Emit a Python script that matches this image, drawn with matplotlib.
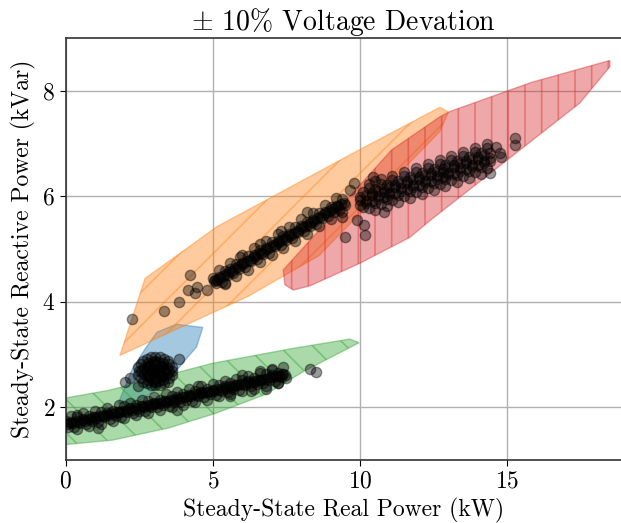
import numpy as np
import matplotlib
matplotlib.use("Agg")
import matplotlib.pyplot as plt

plt.rcParams['font.family'] = 'serif'
plt.rcParams['font.serif'] = ['cmr10']
plt.rcParams['mathtext.fontset'] = 'cm'
plt.rcParams['axes.formatter.use_mathtext'] = True
plt.rcParams['hatch.linewidth'] = 1.2

# operating regions (kW, kVar)
blue_px = [1.79, 2.25, 2.7, 3.1, 3.77, 4.66, 4.45, 4.0, 3.5, 3.0, 2.3]
blue_qy = [2.07, 2.7, 3.1, 3.42, 3.57, 3.51, 3.14, 2.85, 2.5, 2.3, 2.05]

orange_px = [1.85, 2.70, 5.13, 10.0, 12.71, 13.0, 12.71, 8.6, 6.2]
orange_qy = [2.98, 4.44, 5.42, 6.89, 7.69, 7.60, 7.23, 4.87, 4.10]

green_px = [-0.1, 1.5, 5.0, 7.7, 9.65, 9.97, 8.1, 6.8, 5.1, 3.5, 1.6, -0.1]
green_qy = [2.16, 2.32, 2.83, 3.11, 3.29, 3.22, 2.68, 2.24, 1.88, 1.60, 1.37, 1.28]

red_px = [7.39, 7.45, 7.73, 8.30, 10.0, 11.69, 12.4, 17.46, 18.48, 18.48,
          15.8, 13.05, 12.71, 11.07]
red_qy = [4.60, 4.32, 4.22, 4.30, 4.73, 5.22, 5.55, 7.77, 8.46, 8.58,
          8.16, 7.61, 7.51, 6.88]

# measured steady-state points, band by band
low_x = [0.0, 0.2, 0.4, 0.6, 0.8, 1.0, 1.2, 1.4, 1.6, 1.8, 2.0, 2.2, 2.4, 2.6,
         2.8, 3.0, 3.2, 3.4, 3.6, 3.8, 4.0, 4.2, 4.4, 4.6, 4.8, 5.0, 5.2, 5.4,
         5.6, 5.8, 6.0, 6.2, 6.4, 6.6, 6.8, 7.0, 7.2, 7.4,
         0.1, 0.3, 0.5, 0.7, 0.9, 1.1, 1.3, 1.5, 1.7, 1.9, 2.1, 2.3, 2.5, 2.7,
         2.9, 3.1, 3.3, 3.5, 3.7, 3.9, 4.1, 4.3, 4.5, 4.7, 4.9, 5.1, 5.3, 5.5,
         5.7, 5.9, 6.1, 6.3, 6.5, 6.7, 6.9, 7.1, 7.3,
         0.05, 0.15, 0.25, 0.35, 0.45, 0.55, 0.65, 0.75, 0.85, 0.95, 1.05, 1.15,
         1.25, 1.35, 1.45, 1.55, 1.65, 1.75, 1.85, 1.95, 2.05, 2.15, 2.25, 2.35,
         2.45, 2.55, 2.65, 2.75, 2.85, 2.95, 3.05, 3.15, 3.25, 3.35, 3.45, 3.55,
         3.65, 3.75, 3.85, 3.95, 4.05, 4.15, 4.25, 4.35, 4.45, 4.55, 4.65, 4.75,
         4.85, 4.95, 5.05, 5.15, 5.25, 5.35, 5.45, 5.55, 5.65, 5.75, 5.85, 5.95,
         6.05, 6.15, 6.25, 6.35, 6.45, 6.55, 6.65, 6.75, 6.85, 6.95, 7.05, 7.15,
         7.25, 7.35, 7.45,
         0.2, 0.6, 1.0, 1.4, 1.8, 2.2, 2.6, 3.0, 3.4, 3.8, 4.2, 4.6, 5.0, 5.4,
         5.8, 6.2, 6.6, 7.0, 7.4,
         0.4, 0.8, 1.2, 1.6, 2.0, 2.4, 2.8, 3.2, 3.6, 4.0, 4.4, 4.8, 5.2, 5.6,
         6.0, 6.4, 6.8, 7.2,
         0.4, 1.1, 3.8, 4.5, 5.6, 6.0, 6.3, 6.6, 7.0, 7.2, 7.5, 6.8, 8.3, 8.5]
low_y = [1.73, 1.71, 1.80, 1.78, 1.83, 1.81, 1.90, 1.88, 1.93, 1.91, 2.01, 1.98,
         2.04, 2.01, 2.11, 2.08, 2.14, 2.12, 2.21, 2.19, 2.24, 2.22, 2.31, 2.29,
         2.34, 2.32, 2.42, 2.39, 2.45, 2.42, 2.52, 2.49, 2.55, 2.52, 2.62, 2.60,
         2.65, 2.63,
         1.62, 1.61, 1.69, 1.68, 1.73, 1.71, 1.80, 1.78, 1.83, 1.81, 1.90, 1.88,
         1.93, 1.92, 2.00, 1.99, 2.03, 2.02, 2.10, 2.09, 2.14, 2.12, 2.21, 2.19,
         2.24, 2.22, 2.31, 2.29, 2.34, 2.33, 2.41, 2.40, 2.44, 2.45, 2.51, 2.50,
         2.56,
         1.67, 1.70, 1.69, 1.73, 1.72, 1.75, 1.74, 1.78, 1.77, 1.80, 1.79, 1.83,
         1.82, 1.85, 1.85, 1.88, 1.87, 1.90, 1.90, 1.93, 1.92, 1.96, 1.95, 1.98,
         1.97, 2.01, 2.00, 2.03, 2.02, 2.06, 2.05, 2.08, 2.08, 2.11, 2.10, 2.13,
         2.13, 2.16, 2.15, 2.19, 2.18, 2.21, 2.20, 2.24, 2.23, 2.26, 2.26, 2.29,
         2.28, 2.31, 2.31, 2.34, 2.33, 2.36, 2.36, 2.39, 2.38, 2.42, 2.41, 2.44,
         2.43, 2.47, 2.46, 2.49, 2.48, 2.52, 2.51, 2.54, 2.53, 2.57, 2.56, 2.59,
         2.58, 2.62, 2.61,
         1.83, 1.88, 1.93, 1.98, 2.03, 2.08, 2.13, 2.18, 2.24, 2.29, 2.34, 2.39,
         2.44, 2.49, 2.54, 2.59, 2.64, 2.70, 2.75,
         1.58, 1.63, 1.68, 1.73, 1.79, 1.84, 1.89, 1.94, 1.99, 2.04, 2.09, 2.14,
         2.20, 2.25, 2.30, 2.35, 2.40, 2.45,
         1.85, 1.60, 1.95, 2.40, 2.20, 2.60, 2.30, 2.68, 2.72, 2.45, 2.55, 2.35,
         2.72, 2.66]

blob_x = [3.05, 2.95, 3.15,
          3.20, 3.13, 2.98, 2.90, 2.98, 3.13,
          3.25, 3.13, 2.97, 2.85, 2.85, 2.97, 3.13, 3.25,
          3.35, 3.26, 3.05, 2.84, 2.75, 2.84, 3.05, 3.26,
          3.45, 3.30, 3.05, 2.80, 2.65, 2.65, 2.80, 3.05, 3.30, 3.45,
          3.53, 3.29, 2.81, 2.57, 2.81, 3.29,
          3.60, 3.53, 3.33, 3.05, 2.78, 2.57, 2.50, 2.57, 2.78, 3.05, 3.33, 3.53,
          3.63, 3.47, 3.21, 2.89, 2.63, 2.47, 2.47, 2.63, 2.89, 3.21, 3.47, 3.63,
          2.02, 2.2, 3.85, 2.45]
blob_y = [2.68, 2.70, 2.66,
          2.68, 2.74, 2.74, 2.68, 2.62, 2.62,
          2.76, 2.86, 2.86, 2.76, 2.60, 2.50, 2.50, 2.60,
          2.68, 2.78, 2.82, 2.78, 2.68, 2.58, 2.54, 2.58,
          2.74, 2.84, 2.88, 2.84, 2.74, 2.62, 2.52, 2.48, 2.52, 2.62,
          2.68, 2.77, 2.77, 2.68, 2.59, 2.59,
          2.68, 2.81, 2.91, 2.94, 2.91, 2.81, 2.68, 2.55, 2.45, 2.42, 2.45, 2.55,
          2.75, 2.88, 2.95, 2.95, 2.88, 2.75, 2.61, 2.48, 2.41, 2.41, 2.48, 2.61,
          2.48, 2.55, 2.91, 2.40]

mid_x = [5.0, 5.2, 5.4, 5.6, 5.8, 6.0, 6.2, 6.4, 6.6, 6.8, 7.0, 7.2, 7.4, 7.6,
         7.8, 8.0, 8.2, 8.4, 8.6, 8.8, 9.0, 9.2, 9.4,
         5.1, 5.3, 5.5, 5.7, 5.9, 6.1, 6.3, 6.5, 6.7, 6.9, 7.1, 7.3, 7.5, 7.7,
         7.9, 8.1, 8.3, 8.5, 8.7, 8.9, 9.1, 9.3, 9.5,
         5.05, 5.15, 5.25, 5.35, 5.45, 5.55, 5.65, 5.75, 5.85, 5.95, 6.05, 6.15,
         6.25, 6.35, 6.45, 6.55, 6.65, 6.75, 6.85, 6.95, 7.05, 7.15, 7.25, 7.35,
         7.45, 7.55, 7.65, 7.75, 7.85, 7.95, 8.05, 8.15, 8.25, 8.35, 8.45, 8.55,
         8.65, 8.75, 8.85, 8.95, 9.05, 9.15, 9.25, 9.35, 9.45,
         5.2, 5.6, 6.0, 6.4, 6.8, 7.2, 7.6, 8.0, 8.4, 8.8, 9.2,
         5.4, 5.8, 6.2, 6.6, 7.0, 7.4, 7.8, 8.2, 8.6, 9.0, 9.4,
         2.25, 3.34, 3.86, 4.23, 4.17, 4.45, 4.4, 4.79, 5.07, 5.41, 5.92,
         6.6, 7.3, 8.2]
mid_y = [4.44, 4.46, 4.59, 4.62, 4.71, 4.74, 4.86, 4.89, 4.98, 5.01, 5.14, 5.16,
         5.25, 5.28, 5.41, 5.44, 5.52, 5.55, 5.68, 5.71, 5.80, 5.82, 5.95,
         4.35, 4.38, 4.51, 4.54, 4.62, 4.65, 4.78, 4.81, 4.90, 4.92, 5.05, 5.08,
         5.17, 5.20, 5.32, 5.35, 5.44, 5.47, 5.59, 5.62, 5.71, 5.74, 5.83,
         4.39, 4.42, 4.45, 4.49, 4.52, 4.56, 4.59, 4.63, 4.66, 4.70, 4.73, 4.77,
         4.80, 4.83, 4.86, 4.90, 4.93, 4.97, 5.00, 5.04, 5.07, 5.10, 5.13, 5.17,
         5.20, 5.24, 5.27, 5.31, 5.34, 5.38, 5.41, 5.44, 5.47, 5.51, 5.54, 5.58,
         5.61, 5.65, 5.68, 5.72, 5.75, 5.78, 5.81, 5.85, 5.88,
         4.60, 4.74, 4.88, 5.01, 5.15, 5.28, 5.42, 5.56, 5.69, 5.83, 5.96,
         4.34, 4.48, 4.61, 4.75, 4.89, 5.02, 5.16, 5.29, 5.43, 5.57, 5.70,
         3.67, 3.82, 4.00, 4.50, 4.23, 4.28, 4.16, 4.23, 4.41, 4.35, 4.85,
         5.10, 5.35, 5.70]

high_x = [10.1, 10.3, 10.5, 10.7, 10.9, 11.1, 11.3, 11.5, 11.7, 11.9, 12.1,
          12.3, 12.5, 12.7, 12.9, 13.1, 13.3, 13.5, 13.7, 13.9, 14.1, 14.3,
          10.0, 10.2, 10.4, 10.6, 10.8, 11.0, 11.2, 11.4, 11.6, 11.8, 12.0,
          12.2, 12.4, 12.6, 12.8, 13.0, 13.2, 13.4, 13.6, 13.8, 14.0, 14.2, 14.4,
          10.1, 10.3, 10.5, 10.7, 10.9, 11.1, 11.3, 11.5, 11.7, 11.9, 12.1,
          12.3, 12.5, 12.7, 12.9, 13.1, 13.3, 13.5, 13.7, 13.9, 14.1, 14.3,
          10.0, 10.2, 10.4, 10.6, 10.8, 11.0, 11.2, 11.4, 11.6, 11.8, 12.0,
          12.2, 12.4, 12.6, 12.8, 13.0, 13.2, 13.4, 13.6, 13.8, 14.0, 14.2, 14.4,
          10.0, 10.2, 10.4, 10.6, 10.8, 11.0, 11.2, 11.4, 11.6, 11.8, 12.0,
          12.2, 12.4, 12.6, 12.8, 13.0, 13.2, 13.4, 13.6, 13.8, 14.0, 14.2, 14.4,
          10.3, 10.7, 11.1, 11.5, 11.9, 12.3, 12.7, 13.1, 13.5, 13.9, 14.3,
          10.5, 10.9, 11.3, 11.7, 12.1, 12.5, 12.9, 13.3, 13.7, 14.1,
          15.26, 15.26, 14.8, 14.4, 14.6, 14.75, 10.45, 10.5, 9.66, 9.8, 9.49,
          10.17, 10.13, 9.9, 9.4, 10.8]
high_y = [6.09, 6.16, 6.14, 6.23, 6.21, 6.31, 6.29, 6.39, 6.36, 6.46, 6.44,
          6.54, 6.52, 6.61, 6.59, 6.69, 6.67, 6.77, 6.74, 6.84, 6.82, 6.92,
          5.93, 5.92, 6.02, 6.00, 6.09, 6.07, 6.17, 6.15, 6.25, 6.22, 6.32,
          6.30, 6.40, 6.38, 6.47, 6.45, 6.55, 6.53, 6.63, 6.60, 6.70, 6.68, 6.72,
          5.80, 5.78, 5.88, 5.85, 5.95, 5.93, 6.03, 6.01, 6.10, 6.08, 6.18,
          6.16, 6.26, 6.23, 6.33, 6.31, 6.41, 6.39, 6.48, 6.46, 6.56, 6.54,
          5.99, 6.03, 6.07, 6.11, 6.14, 6.18, 6.22, 6.26, 6.30, 6.33, 6.37,
          6.41, 6.45, 6.49, 6.52, 6.56, 6.60, 6.64, 6.68, 6.71, 6.75, 6.79, 6.83,
          5.83, 5.87, 5.91, 5.95, 5.98, 6.02, 6.06, 6.10, 6.14, 6.17, 6.21,
          6.25, 6.29, 6.33, 6.36, 6.40, 6.44, 6.48, 6.52, 6.55, 6.59, 6.63, 6.67,
          6.24, 6.32, 6.39, 6.47, 6.54, 6.62, 6.69, 6.77, 6.85, 6.92, 7.00,
          5.74, 5.81, 5.89, 5.96, 6.04, 6.12, 6.19, 6.27, 6.34, 6.42,
          7.10, 6.97, 6.75, 6.44, 6.94, 6.82, 6.37, 6.30, 6.12, 6.25, 5.22,
          5.27, 5.45, 5.55, 5.60, 5.70]

fig = plt.figure(figsize=(6.21, 5.23), dpi=100)
ax = fig.add_axes([0.1055, 0.1212, 0.8945, 0.8055])

ax.fill(blue_px, blue_qy, facecolor='tab:blue', edgecolor='tab:blue',
        alpha=0.4, lw=1)
ax.fill(orange_px, orange_qy, facecolor='tab:orange', edgecolor='tab:orange',
        alpha=0.4, lw=1, hatch='/')
ax.fill(green_px, green_qy, facecolor='tab:green', edgecolor='tab:green',
        alpha=0.4, lw=1, hatch='\\')
ax.fill(red_px, red_qy, facecolor='tab:red', edgecolor='tab:red',
        alpha=0.4, lw=1, hatch='|')

for xs, ys in [(low_x, low_y), (blob_x, blob_y), (mid_x, mid_y), (high_x, high_y)]:
    ax.scatter(xs, ys, s=55, color='black', alpha=0.4, zorder=3)

ax.set_xlim(0, 18.86)
ax.set_ylim(1, 9)
ax.set_xticks([0, 5, 10, 15])
ax.set_yticks([2, 4, 6, 8])
ax.grid(True, color='#b0b0b0', lw=1)
ax.set_axisbelow(True)
ax.spines['right'].set_visible(False)
for s in ['left', 'bottom', 'top']:
    ax.spines[s].set_color('#333333')
    ax.spines[s].set_linewidth(1.2)
ax.tick_params(labelsize=17, length=4)
ax.set_xlabel("Steady-State Real Power (kW)", fontsize=17)
ax.set_ylabel("Steady-State Reactive Power (kVar)", fontsize=17)
ax.set_title(r"$\pm$ 10% Voltage Devation", fontsize=20)

plt.savefig("out.png", dpi=100)
